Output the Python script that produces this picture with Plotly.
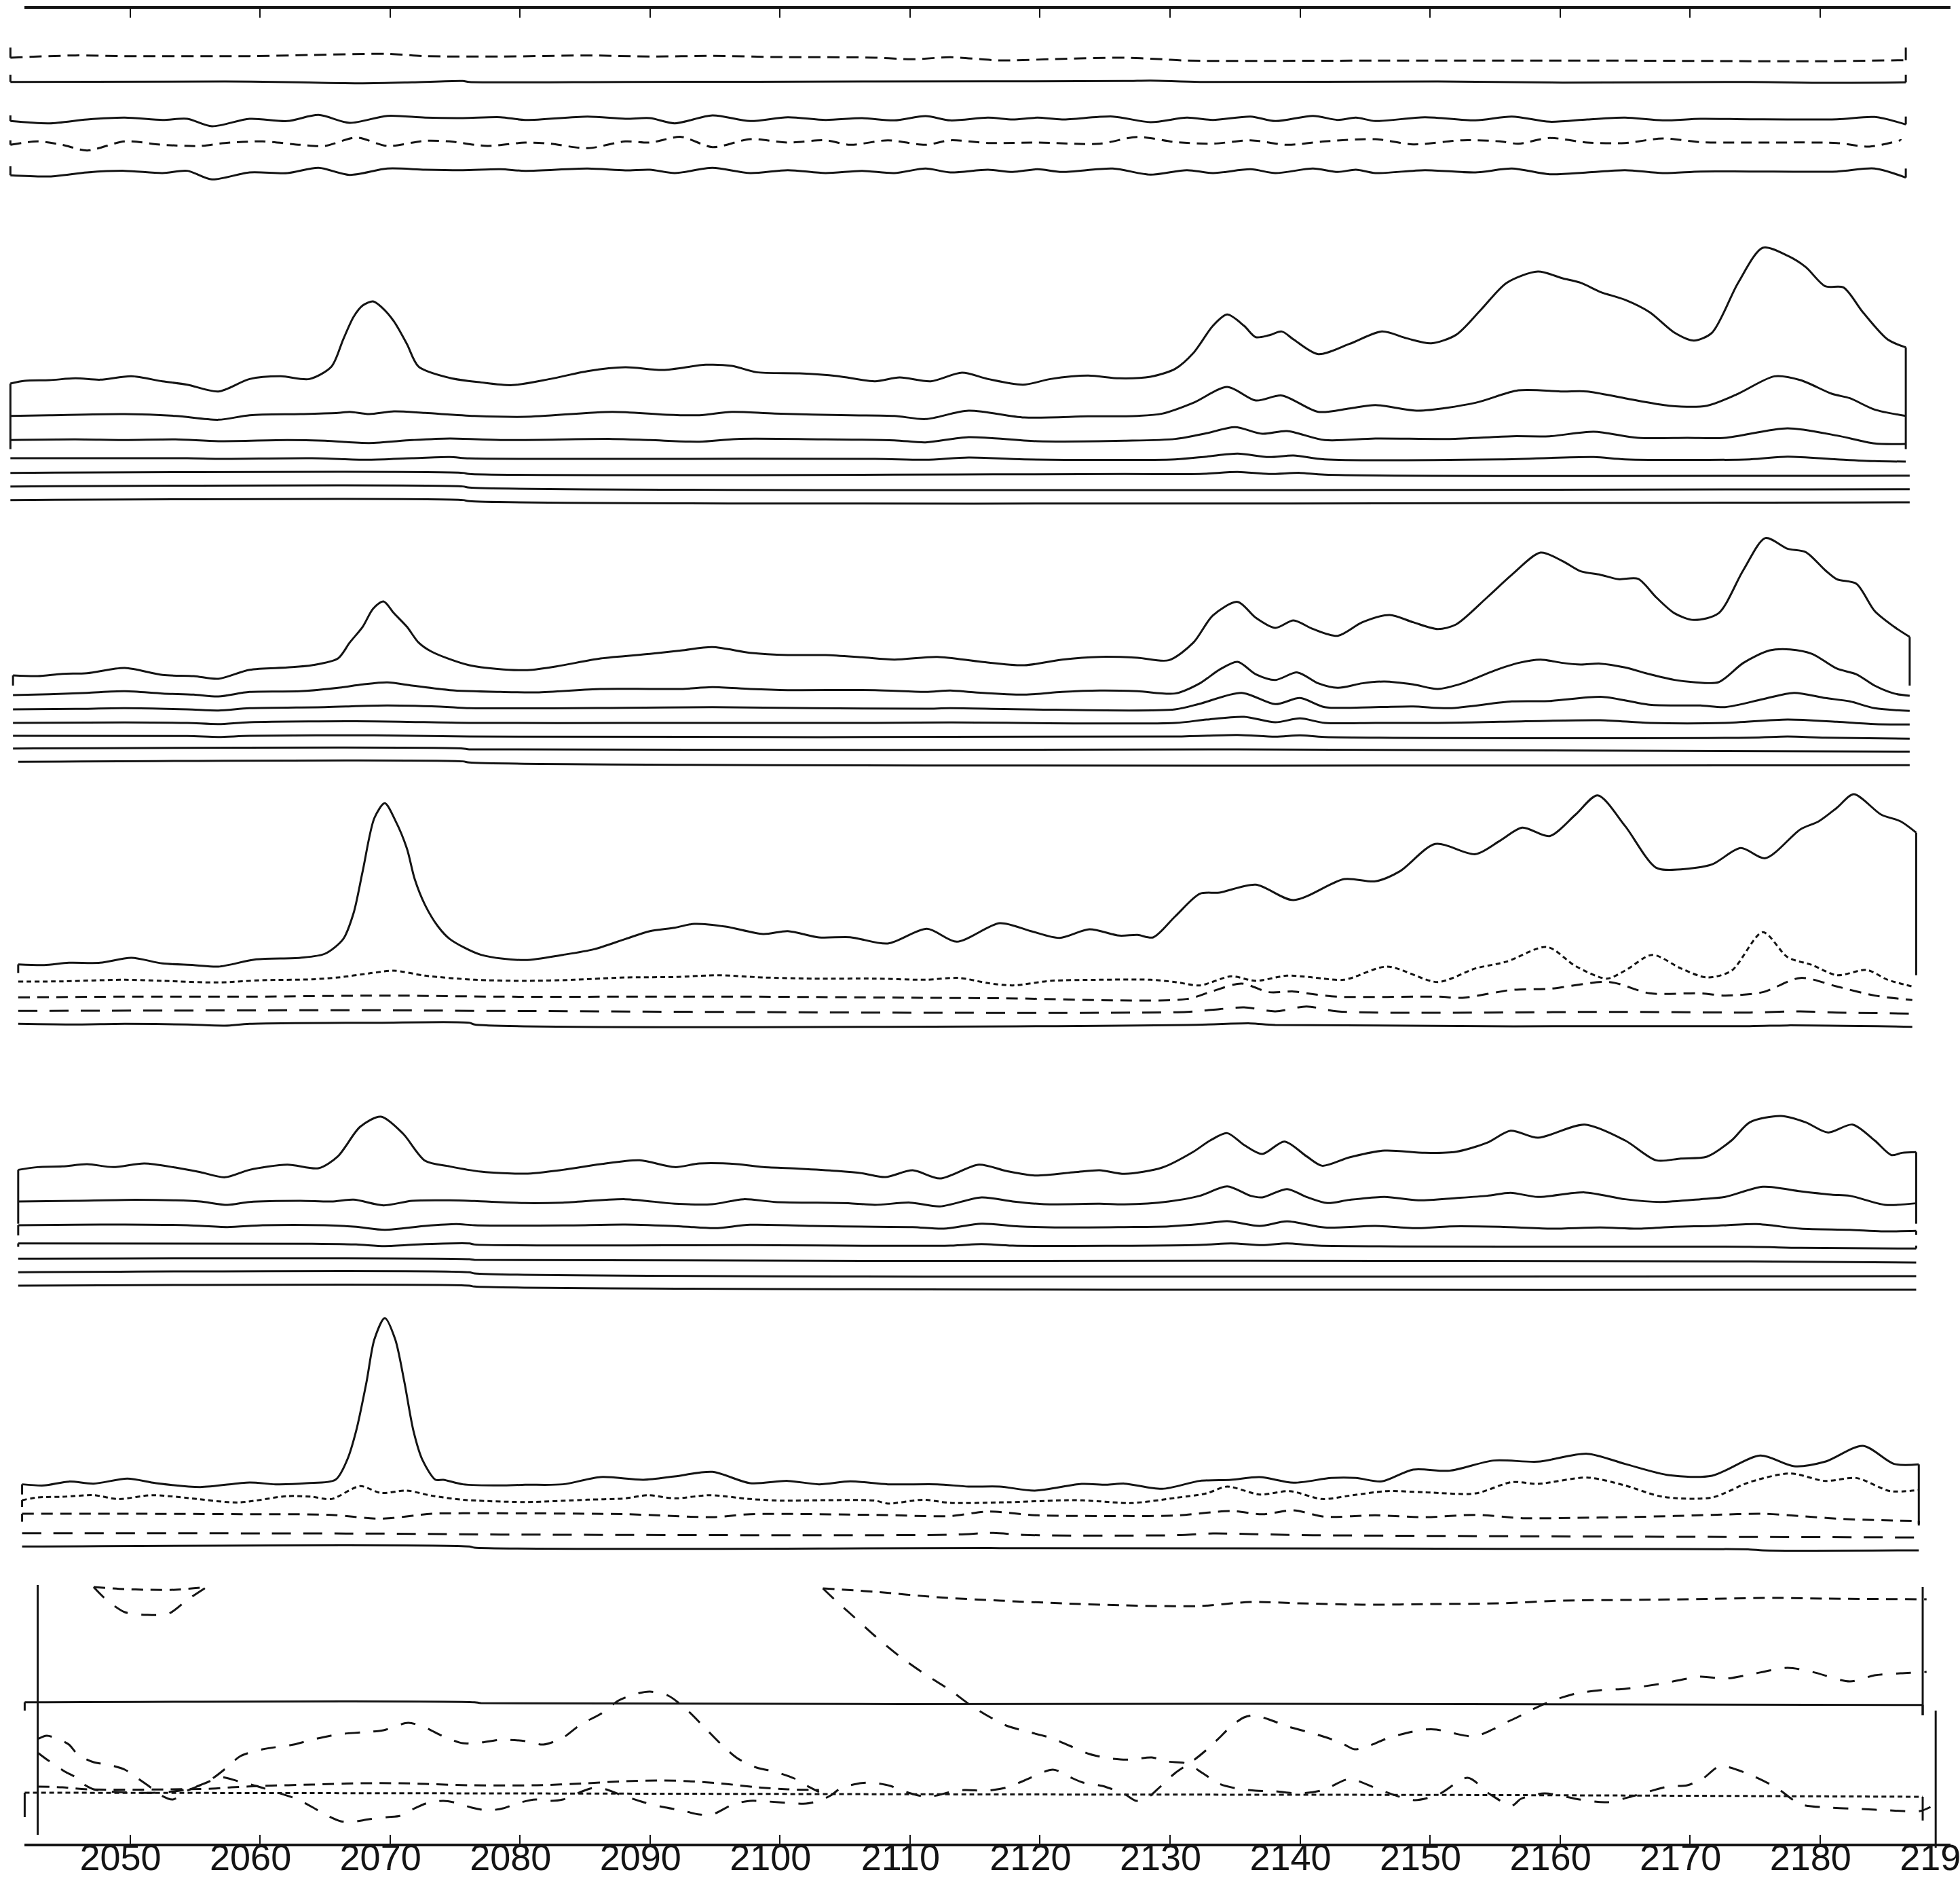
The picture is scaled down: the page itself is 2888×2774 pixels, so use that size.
import plotly.graph_objects as go

# axis: years, tick labels along the bottom
TICK_YEARS = list(range(2050, 2200, 10))
TICK_TEXT = [str(t) for t in TICK_YEARS]

# ---------------- block 1 (top, five flat-ish traces) ----------------
P1A_X = [2040.8, 2045.8, 2049.6, 2059.2, 2064.0, 2069.8, 2072.7, 2078.5, 2085.2, 2090.0, 2094.8, 2099.6,
         2107.3, 2110.2, 2113.1, 2116.9, 2121.7, 2126.5, 2129.4, 2131.3, 2145.8, 2165.0, 2179.4, 2186.6]
P1A_V = [13, 23, 20, 20, 25, 30, 20, 18, 23, 18, 21, 16, 13, 6, 15, 1, 8, 13, 6, 0, 0, 0, -3, 2]

P1B_X = [2040.8, 2057.3, 2063.1, 2067.9, 2071.7, 2075.6, 2076.1, 2088.1, 2107.3, 2126.5, 2128.5, 2132.3,
         2150.6, 2160.2, 2174.6, 2179.4, 2186.6]
P1B_V = [0, 2, -2, -6, -2, 4, 0, 0, 2, 4, 6, 0, 2, -3, 0, -4, -2]

P1W_X = [2040.8, 2043.8, 2046.7, 2049.6, 2052.5, 2054.4, 2056.3, 2059.2, 2062.1, 2064.5, 2066.9, 2069.8,
         2072.7, 2075.6, 2078.5, 2080.4, 2085.2, 2088.1, 2090.0, 2091.9, 2094.8, 2097.7, 2100.6, 2103.5,
         2106.3, 2108.8, 2111.2, 2113.1, 2116.0, 2117.9, 2119.8, 2121.7, 2125.6, 2128.5, 2131.3, 2133.3,
         2136.2, 2138.1, 2141.0, 2142.9, 2144.3, 2145.8, 2149.6, 2153.5, 2156.3, 2159.2, 2162.1, 2165.0,
         2167.9, 2170.8, 2174.6, 2181.3, 2184.2, 2186.6]
P1C_V = [-7, -17, 0, 8, -2, 3, -30, 3, -7, 20, -15, 16, 8, 6, 10, -2, 13, 3, 6, -17, 18, -7, 10, -2,
         6, -4, 15, -4, 8, 0, 8, 0, 13, -12, 8, -2, 13, -7, 16, -2, 8, -7, 10, -4, 13, -10, 0, 8,
         -4, 3, 1, 1, 11, -22]
P1E_V = [-15, -20, -2, 5, -5, 5, -33, -2, -5, 18, -13, 15, 10, 8, 12, 5, 15, 7, 10, -5, 18, -5, 8, -5,
         5, -5, 15, -2, 10, 0, 12, 0, 15, -12, 8, -5, 12, -5, 15, 0, 10, -5, 8, -2, 15, -10, -2, 8,
         -5, 2, 2, 2, 15, -25]

P1D_X = [2040.8, 2042.9, 2044.8, 2046.7, 2049.6, 2052.5, 2055.4, 2057.3, 2060.2, 2063.1, 2065.0, 2067.4,
         2069.8, 2072.7, 2074.6, 2077.5, 2080.4, 2082.3, 2085.2, 2088.1, 2090.0, 2092.4, 2094.8, 2097.7,
         2100.6, 2103.5, 2105.4, 2108.3, 2111.2, 2113.1, 2116.0, 2119.8, 2124.6, 2127.5, 2130.4, 2133.3,
         2136.2, 2139.0, 2141.9, 2145.8, 2148.7, 2152.5, 2155.4, 2156.8, 2159.2, 2162.1, 2165.0, 2167.9,
         2170.8, 2174.6, 2181.3, 2183.8, 2186.2]
P1D_V = [-10, 5, -10, -35, 5, -10, -15, -2, 5, -10, -15, 22, -15, 8, 5, -15, 0, -5, -25, 5, 0, 25, -20,
         15, 0, 10, -10, 10, -10, 10, -2, 0, -5, 25, 2, -5, 10, -10, 5, 15, -8, 10, 5, -5, 20, 0, -2,
         18, 2, 0, -2, -18, 10]

# ---------------- block 2 ----------------
P2T1_X = [2040.8, 2041.9, 2043.8, 2045.8, 2047.7, 2050.1, 2052.5, 2054.4, 2056.8, 2059.2, 2061.6, 2063.8,
          2065.5, 2066.4, 2067.2, 2067.9, 2068.7, 2069.4, 2070.3, 2071.3, 2072.2, 2074.6, 2077.0, 2079.4,
          2082.3, 2085.2, 2088.1, 2091.0,
          2094.3, 2096.3, 2098.2, 2101.5, 2104.4, 2107.3, 2109.2, 2111.6, 2114.0, 2116.0, 2118.7, 2120.8,
          2123.7, 2126.1, 2128.5, 2130.4, 2131.8, 2133.3, 2134.4, 2135.7, 2136.6, 2137.6, 2138.6, 2139.5,
          2141.4, 2143.8, 2146.3, 2148.2, 2150.1, 2152.0, 2153.9, 2155.9, 2158.3, 2160.2, 2161.6, 2163.1,
          2165.0, 2166.9, 2168.8, 2170.3, 2171.7, 2173.7, 2175.6, 2177.5, 2178.9, 2180.4, 2181.8, 2183.3,
          2185.2, 2186.6]
P2T1_V = [290, 302, 305, 313, 307, 322, 300, 285, 255, 310, 322, 310,
          365, 485, 585, 635, 653, 625, 565, 465, 365, 315, 295, 283,
          310, 345, 362, 350, 373, 368, 340, 335, 323, 300, 317, 300, 338, 310, 285, 310, 325, 313,
          320, 355, 425, 545, 595, 545, 495, 503, 520, 485, 420, 465, 520, 490, 468, 505, 615, 735, 785,
          755, 735, 695, 660, 605, 515, 480, 515, 735, 890, 855, 805, 720, 715, 605, 485, 450]

P2T2_X = [2040.8, 2043.8, 2049.6, 2053.5, 2056.8, 2059.2, 2063.1, 2066.0, 2066.9, 2068.4, 2070.3, 2072.7,
          2076.5, 2080.4, 2087.1, 2091.0, 2093.8, 2096.3, 2099.6, 2105.4, 2108.8, 2111.2, 2114.5, 2118.8,
          2123.7, 2127.5, 2129.4, 2131.8, 2134.4, 2136.6, 2138.6, 2141.4, 2143.8, 2145.8, 2149.1, 2153.5,
          2156.8, 2160.2, 2162.1, 2165.0, 2168.4, 2171.3, 2173.7, 2176.5, 2178.5, 2180.9, 2182.3, 2184.2,
          2186.6]
P2T2_V = [-3, 0, 5, -3, -20, 0, 5, 10, 15, 5, 17, 10, -3, -7, 15, 3, 0, 15, 7, 0, -3, -17, 20, -10, -5,
          -3, 7, 55, 125, 65, 87, 15, 30, 45, 20, 55, 110, 105, 105, 75, 42, 42, 95, 172, 155, 95, 75,
          25, -3]

P2T3_X = [2040.8, 2045.8, 2049.6, 2053.5, 2056.8, 2062.1, 2065.0, 2068.4, 2071.7, 2074.6, 2078.5, 2087.1,
          2090.0, 2093.8, 2096.7, 2103.5, 2108.8, 2111.2, 2114.5, 2119.8, 2126.5, 2130.4, 2132.8, 2135.0,
          2137.1, 2139.0, 2141.9, 2145.8, 2151.5, 2156.3, 2159.2, 2162.6, 2166.0, 2169.8, 2172.7, 2177.5,
          2181.3, 2184.2, 2186.6]
P2T3_V = [0, 3, 0, 3, -5, 0, -3, -13, 0, 7, 0, 5, 0, -7, 5, 3, -1, -10, 13, -5, -3, 5, 30, 57, 28, 40,
          0, 7, 5, 17, 17, 37, 10, 10, 10, 52, 20, -15, -17]

P2T4_X = [2040.8, 2054.4, 2056.8, 2064.0, 2068.4, 2071.7, 2074.6, 2076.1, 2088.1, 2107.3, 2111.2, 2114.5,
          2118.8, 2130.4, 2132.8, 2135.2, 2137.6, 2139.5, 2141.9, 2155.4, 2162.6, 2165.0, 2174.6, 2177.5,
          2181.3, 2184.2, 2186.6]
P2T4_V = [0, 0, -3, 0, -7, 0, 5, -1, -3, -3, -7, 3, -5, -5, 7, 20, 5, 12, -5, -5, 5, -5, -5, 7, -5, -13, -15]

P2T5_X = [2040.8, 2075.6, 2076.1, 2126.5, 2132.3, 2135.2, 2137.6, 2140.0, 2141.9, 2186.9]
P2T5_V = [2, 2, -3, -3, -3, 6, -3, 2, -6, -10]
P2FLAT_X = [2040.8, 2075.6, 2076.1, 2186.9]
P2T6_V = [2, 2, -3, -10]
P2T7_V = [2, 2, -3, -8]

# ---------------- block 3 ----------------
P3T1_X = [2041.0, 2042.9, 2044.8, 2046.7, 2049.6, 2052.5, 2054.9, 2056.8, 2059.2, 2062.1, 2064.0,
          2066.0, 2066.9, 2067.9, 2068.7, 2069.5, 2070.3, 2071.3, 2072.2, 2073.2,
          2076.1, 2080.4, 2082.8, 2086.2, 2090.0, 2092.4, 2094.8, 2097.7,
          2100.6, 2103.5, 2106.3, 2108.8, 2112.1, 2115.5, 2118.8, 2121.7, 2124.6, 2127.5, 2129.9, 2131.8,
          2133.3, 2135.2, 2136.6, 2138.1, 2139.5, 2141.0, 2142.9, 2144.8, 2146.9, 2148.7, 2150.6, 2152.0,
          2154.4, 2156.3, 2158.5, 2160.2, 2161.6, 2163.1, 2164.5, 2166.0, 2167.4, 2168.8, 2170.3, 2172.2,
          2174.1, 2175.8, 2177.5, 2178.9, 2180.4, 2181.3, 2182.8, 2184.2, 2185.7, 2186.9]
P3T1_V = [45, 42, 52, 55, 78, 47, 42, 30, 70, 80, 90,
          120, 190, 260, 340, 372, 320, 260, 190, 150,
          90, 68, 85, 120, 140, 155,
          170, 145, 135, 135, 125, 115, 127, 105, 90, 115, 127, 123, 112, 190, 310, 370, 300, 255, 288,
          250, 220, 280, 312, 280, 250, 270, 390, 490, 588, 550, 505, 490, 470, 472, 390, 320, 290, 320,
          510, 652, 605, 590, 510, 470, 450, 330, 260, 215]

P3T2_X = [2041.0, 2043.8, 2046.7, 2049.6, 2052.5, 2054.9, 2056.8, 2059.2, 2063.1, 2066.0, 2067.9, 2069.8,
          2071.7, 2074.6, 2078.5, 2081.3, 2086.2, 2090.0, 2092.4, 2094.8, 2097.7, 2100.6, 2107.3, 2111.2,
          2113.1, 2115.0, 2118.8, 2121.7, 2124.6, 2127.5, 2130.4, 2132.3, 2133.8, 2135.2, 2136.6, 2138.1,
          2139.8, 2141.4, 2142.9, 2144.8, 2146.5, 2148.7, 2150.6, 2152.5, 2154.9, 2156.8, 2158.5, 2160.2,
          2161.6, 2163.1, 2165.0, 2166.9, 2168.8, 2170.3, 2172.2, 2174.1, 2176.1, 2177.7, 2179.4, 2181.3,
          2182.8, 2184.2, 2185.7, 2186.9]
P3T2_V = [-2, 2, 8, 15, 5, 0, -8, 12, 15, 30, 45, 54, 40, 20, 12, 10, 25, 25, 25, 33, 25, 20, 20, 12, 18,
          10, 0, 12, 18, 15, 5, 50, 110, 145, 90, 65, 98, 50, 30, 50, 58, 45, 25, 50, 105, 140, 155, 140,
          133, 137, 120, 90, 65, 55, 55, 140, 195, 200, 180, 115, 90, 40, 5, -5]

P3T3_X = [2041.0, 2045.8, 2049.6, 2054.4, 2056.8, 2059.2, 2065.0, 2069.8, 2074.6, 2076.1, 2088.1, 2094.8,
          2102.5, 2111.2, 2113.1, 2118.8, 2130.4, 2132.3, 2135.5, 2138.1, 2140.0, 2141.9, 2145.8, 2148.7,
          2151.5, 2156.3, 2159.2, 2163.3, 2166.9, 2170.8, 2172.7, 2175.6, 2178.0, 2180.4, 2182.3, 2184.2,
          2186.9]
P3T3_V = [0, 2, 5, 0, -5, 5, 10, 17, 10, 5, 7, 10, 5, 3, 5, 0, 0, 25, 73, 23, 50, 10, 10, 13, 5, 35, 37,
          55, 20, 17, 10, 45, 73, 50, 35, 5, -7]

P3T4_X = [2041.0, 2049.6, 2054.4, 2056.8, 2059.2, 2068.8, 2076.1, 2088.1, 2107.3, 2113.1, 2130.4, 2132.8,
          2135.7, 2138.1, 2140.0, 2141.9, 2145.8, 2150.6, 2155.4, 2163.1, 2166.9, 2172.7, 2177.5, 2181.3,
          2184.2, 2186.9]
P3T4_V = [0, 2, 0, -5, 3, 7, 0, 0, 0, 2, 0, 15, 27, 3, 20, 0, 0, 0, 5, 12, 0, 0, 15, 5, -5, -7]

P3T5_X = [2041.0, 2054.4, 2056.8, 2059.2, 2068.8, 2076.1, 2130.4, 2135.2, 2138.1, 2140.0, 2141.9, 2174.6,
          2177.5, 2180.4, 2186.9]
P3T5_V = [0, -1, -5, 0, 2, -3, -3, 4, -4, 2, -5, -8, -3, -8, -13]

P3T6_X = [2041.0, 2075.6, 2076.1, 2135.2, 2186.9]
P3T6_V = [2, 2, -2, -2, -12]
P3T7_X = [2041.4, 2075.6, 2076.1, 2186.9]
P3T7_V = [0, 2, -3, -15]

# ---------------- block 4 ----------------
P4T1_X = [2041.4, 2043.4, 2045.3, 2047.7, 2050.1, 2052.5, 2054.9, 2056.8, 2059.7, 2063.1,
          2065.0, 2066.4, 2067.2, 2067.9, 2068.8, 2069.6, 2070.4, 2071.3, 2071.9, 2072.7, 2073.7, 2074.6,
          2077.0, 2080.4, 2083.3, 2085.7, 2088.1, 2090.0, 2091.9,
          2093.4, 2095.8, 2098.7, 2100.6, 2103.0, 2105.4, 2108.3, 2111.3, 2113.6, 2116.9, 2119.3, 2121.5,
          2123.8, 2126.1, 2127.5, 2128.7, 2130.4, 2132.3, 2133.8, 2136.6, 2139.5, 2143.4, 2145.8, 2147.7,
          2150.4, 2153.5, 2155.4, 2157.1, 2159.2, 2161.2, 2162.9, 2165.0, 2167.4, 2169.3, 2171.7, 2173.9,
          2175.8, 2178.5, 2179.9, 2181.3, 2182.6, 2184.7, 2186.2, 2187.4]
P4T1_V = [43, 40, 50, 50, 72, 47, 40, 33, 65, 72,
          90, 155, 270, 455, 690, 755, 680, 555, 420, 305, 210, 155,
          85, 62, 85, 110, 155, 190, 205,
          222, 210, 177, 190, 162, 163, 135, 200, 143, 225, 190, 160, 198, 170, 173, 162, 255,
          355, 360, 395, 327, 420, 410, 455, 575, 530, 590, 647, 610, 705, 790, 655, 470, 463, 485, 557,
          512, 640, 675, 735, 795, 705, 675, 625]

P4T2_X = [2041.4, 2044.8, 2049.6, 2052.5, 2056.8, 2060.2, 2064.0, 2066.0, 2068.4, 2070.3, 2072.7, 2076.5,
          2080.4, 2084.2, 2088.1, 2091.9, 2095.3, 2098.7, 2102.5, 2107.3, 2111.2, 2113.8, 2116.0, 2117.9,
          2120.8, 2124.6, 2128.5, 2130.4, 2132.3, 2134.7, 2136.6, 2139.0, 2141.0, 2143.4, 2146.7, 2150.6,
          2153.5, 2155.9, 2159.0, 2161.2, 2163.6, 2165.0, 2167.1, 2169.3, 2171.3, 2173.2, 2175.6, 2177.5,
          2179.4, 2181.3, 2183.6, 2185.2, 2187.1]
P4T2_V = [-3, -2, 5, 0, -7, 3, 7, 15, 33, 45, 23, 5, 0, 5, 15, 17, 25, 15, 10, 10, 5, 13, -10, -20, 0, 5,
          5, -5, -20, 20, 0, 23, 15, 5, 63, -5, 55, 85, 150, 65, 10, 45, 115, 55, 15, 45, 215, 105, 70,
          25, 48, 5, -25]

P4T3_X = [2041.4, 2049.6, 2059.2, 2069.8, 2078.5, 2097.7, 2116.9, 2131.3, 2133.3, 2135.5, 2137.6, 2139.5,
          2140.5, 2142.9, 2150.6, 2152.5, 2156.3, 2159.2, 2163.8, 2166.9, 2170.8, 2172.7, 2175.6, 2178.5,
          2181.3, 2184.2, 2187.1]
P4T3_V = [-3, 0, 0, 5, 0, 0, -7, -10, 25, 58, 20, 23, 15, 0, 0, -5, 30, 35, 65, 15, 15, 5, 20, 83, 45, 5, -15]

P4T4_X = [2041.4, 2068.8, 2078.5, 2131.3, 2133.8, 2135.7, 2138.1, 2140.5, 2142.9, 2165.0, 2174.6, 2178.5,
          2181.3, 2187.1]
P4T4_V = [0, 3, 0, -4, 8, 16, -2, 20, -2, -4, -7, -2, -7, -12]

P4T5_X = [2041.4, 2045.8, 2049.6, 2054.4, 2057.3, 2059.2, 2068.8, 2076.1, 2076.5, 2131.3, 2136.2, 2138.1,
          2174.6, 2177.5, 2187.1]
P4T5_V = [0, -3, 0, -3, -8, 0, 5, 5, -3, -5, 2, -5, -10, -7, -13]

# ---------------- block 5 ----------------
P5T1_X = [2041.4, 2042.9, 2044.8, 2046.7, 2048.7, 2051.1, 2053.5, 2055.4, 2057.3, 2059.2, 2062.1, 2064.5,
          2066.0, 2067.7, 2069.3, 2071.0, 2072.7, 2074.6, 2077.0, 2080.4, 2083.3, 2086.2, 2089.2, 2091.9,
          2093.8, 2096.7, 2098.7, 2101.5, 2104.4, 2106.3, 2108.1, 2110.2, 2112.3, 2115.3, 2117.4, 2119.6,
          2122.7, 2124.6, 2126.5, 2129.4, 2131.8, 2133.1, 2134.4, 2135.7, 2137.1, 2138.8, 2140.5, 2141.7,
          2143.8, 2146.5, 2149.6, 2152.0, 2154.4, 2156.2, 2158.3, 2161.9, 2165.0, 2167.4, 2169.3, 2171.3,
          2173.2, 2174.6, 2177.0, 2178.9, 2180.6, 2182.5, 2184.2, 2185.5, 2186.3, 2187.4]
P5T1_V = [145, 157, 160, 170, 157, 173, 155, 135, 112, 145, 168, 152, 205, 335, 380, 305, 185, 160, 137,
          128, 145, 170, 187, 157, 173, 170, 157, 150, 140, 130, 113, 143, 107, 168, 140, 120, 135, 143,
          127, 155, 225, 275, 307, 255, 215, 270, 205, 163, 200, 230, 220, 225, 265, 318, 287, 345, 275,
          187, 195, 203, 275, 355, 383, 355, 310, 345, 275, 210, 220, 223]

P5T2_X = [2041.4, 2045.8, 2049.6, 2053.5, 2055.4, 2057.5, 2059.2, 2063.1, 2065.5, 2067.2, 2069.5, 2071.7,
          2074.6, 2076.5, 2080.4, 2083.3, 2088.1, 2091.9, 2094.8, 2097.2, 2099.6, 2105.4, 2107.3, 2110.0,
          2112.3, 2115.5, 2117.9, 2120.3, 2124.6, 2126.5, 2129.9, 2132.3, 2134.4, 2136.2, 2137.1, 2139.0,
          2140.5, 2142.1, 2143.8, 2146.5, 2149.1, 2152.0, 2154.4, 2156.2, 2158.3, 2161.9, 2165.0, 2167.7,
          2170.8, 2172.7, 2175.6, 2178.5, 2180.9, 2182.3, 2185.0, 2187.4]
P5T2_V = [-2, 1, 5, 3, -2, -17, -4, 1, -2, 6, -19, 1, 3, 0, -9, -7, 8, -12, -14, 8, -4, -10, -17, -7,
          -24, 16, -2, -14, -12, -15, -2, 23, 65, 23, 16, 53, 18, -9, 5, 18, 3, 13, 23, 36, 18, 38, 8,
          -4, 8, 18, 63, 43, 28, 23, -17, -10]

P5T3_X = [2041.4, 2045.8, 2049.6, 2054.4, 2057.5, 2060.2, 2065.0, 2067.4, 2069.6, 2072.7, 2075.1, 2076.5,
          2083.3, 2088.1, 2092.4, 2095.0, 2097.7, 2102.5, 2107.3, 2110.2, 2112.6, 2115.5, 2118.4, 2121.7,
          2126.5, 2129.9, 2132.3, 2134.4, 2136.9, 2139.0, 2141.9, 2145.8, 2149.1, 2151.5, 2155.4, 2159.2,
          2163.1, 2166.0, 2168.8, 2171.7, 2175.1, 2178.5, 2182.3, 2184.7, 2187.4]
P5T3_V = [0, 2, 3, 0, -8, 0, 0, -7, -20, -3, 5, 0, -1, 3, -5, -13, 2, -3, -7, -8, -15, 7, -5, -10, -8,
          -5, 5, 18, -3, 17, -10, -3, -13, -5, -7, -15, -10, -15, -7, -3, 5, -15, -20, -27, -25]

P5T4_X = [2041.4, 2064.0, 2067.4, 2069.6, 2072.7, 2076.1, 2076.5, 2097.7, 2113.1, 2115.5, 2117.9, 2132.3,
          2134.7, 2137.1, 2139.0, 2141.4, 2174.6, 2178.5, 2187.4]
P5T4_V = [0, -2, -5, -12, -3, 0, -5, -8, -10, -3, -10, -7, 0, -8, 0, -10, -15, -20, -23]

P5T5_X = [2041.4, 2076.1, 2076.5, 2136.2, 2174.6, 2187.4]
P5T5_V = [0, -2, -5, -9, -12, -17]
P5FLAT_X = [2041.4, 2076.1, 2076.5, 2187.4]
P5T6_V = [0, 0, -5, -17]
P5T7_V = [0, 0, -4, -18]

# ---------------- block 6 ----------------
P6T1_X = [2041.7, 2043.4, 2045.3, 2047.2, 2049.8, 2052.0, 2055.4, 2059.2, 2061.2, 2063.6,
          2065.8, 2066.7, 2067.4, 2068.2, 2068.8, 2069.6, 2070.4, 2071.1, 2071.8, 2072.5, 2073.5, 2074.1,
          2075.6, 2078.5, 2080.4,
          2083.3, 2086.2, 2089.5, 2091.9, 2094.8, 2097.7, 2100.6, 2103.0, 2105.4, 2108.3, 2112.1, 2114.5,
          2116.9, 2119.6, 2123.2, 2125.1, 2126.5, 2129.4, 2132.3, 2134.7, 2136.9, 2139.5, 2142.4, 2144.3,
          2146.3, 2148.7, 2151.5, 2154.9, 2158.3, 2162.1, 2165.0, 2168.4, 2171.7, 2175.4, 2178.0, 2180.4,
          2183.3, 2185.7, 2187.6]
P6T1_V = [80, 75, 92, 83, 105, 85, 68, 88, 80, 85,
          100, 187, 317, 534, 721, 815, 721, 534, 317, 187, 100, 100,
          80, 75, 78,
          80, 112, 100, 115, 135, 85, 95, 80, 93, 80, 80, 70, 70, 52, 82, 78, 83, 60, 95, 100,
          112, 87, 108, 108, 93, 145, 140, 185, 180, 215, 170, 120, 118, 207, 160, 180, 250, 170, 168]

P6T2_X = [2041.7, 2042.9, 2044.8, 2047.2, 2049.1, 2051.7, 2054.4, 2058.3, 2062.1, 2064.0, 2065.5, 2067.7,
          2069.3, 2071.3, 2073.2, 2075.6, 2080.4, 2085.2, 2088.1, 2089.8, 2091.9, 2094.6, 2097.7, 2100.1,
          2103.5, 2107.3, 2108.3, 2111.0, 2113.1, 2116.9, 2122.7, 2124.6, 2127.0, 2130.4, 2132.8, 2134.4,
          2136.9, 2139.2, 2141.7, 2143.8, 2146.7, 2149.6, 2153.5, 2156.3, 2158.3, 2162.1, 2165.0, 2167.9,
          2171.7, 2174.6, 2177.7, 2180.4, 2182.8, 2185.4, 2187.6]
P6T2_V = [-10, 2, 5, 12, -5, 12, 0, -20, 8, 5, -5, 52, 22, 32, 10, -8, -18, -8, -2, 12, -2, 12, -5, -12,
          -10, -12, -25, -8, -22, -20, -10, -15, -23, 0, 20, 50, 15, 30, -5, 10, 30, 25, 20, 70, 62, 90,
          55, 5, 2, 70, 108, 75, 88, 30, 35]

P6T3_X = [2041.7, 2049.6, 2059.2, 2065.5, 2069.3, 2073.2, 2075.6, 2088.1, 2094.8, 2097.7, 2107.3, 2113.1,
          2116.0, 2119.8, 2126.5, 2130.4, 2134.7, 2137.1, 2139.5, 2141.9, 2145.8, 2149.6, 2153.5, 2157.3,
          2161.2, 2165.0, 2168.8, 2171.7, 2175.6, 2178.5, 2181.3, 2184.2, 2187.6]
P6T3_V = [2, 2, 0, -3, -20, 2, 4, 0, -13, 0, -3, -8, 12, -5, -8, -6, 14, 0, 17, -11, -5, -13, -3, -18,
          -16, -13, -8, -3, 2, -8, -20, -26, -30]

P6T4_X = [2041.7, 2068.8, 2078.5, 2113.1, 2116.4, 2118.8, 2130.4, 2133.3, 2136.2, 2141.0, 2187.6]
P6T4_V = [2, 0, -4, -5, 3, -6, -7, 1, -2, -7, -17]

P6T5_X = [2041.7, 2076.1, 2076.5, 2116.9, 2155.4, 2174.6, 2175.6, 2187.6]
P6T5_V = [0, 0, -5, -7, -10, -13, -17, -17]

# ---------------- block 7 (bottom) ----------------
B_DOT_X = [2041.9, 2078.5, 2116.9, 2155.4, 2187.9]
B_DOT_V = [-1, -2, -3.5, -4.5, -7]

B_SOLID_X = [2041.9, 2076.5, 2077.0, 2136.2, 2187.9]
B_SOLID_V = [132.3, 132.3, 131, 130, 128.3]

B_MED_X = [2042.9, 2044.8, 2046.7, 2056.3, 2057.8, 2060.2, 2064.0, 2067.9, 2070.8, 2072.7, 2076.1, 2081.3,
           2085.2, 2088.1, 2091.0, 2092.9, 2095.8, 2098.2, 2100.6, 2103.0]
B_MED_V = [8, 7, 4, 5, 7, 9, 11, 13, 13, 12, 10, 10, 13, 16, 17, 16, 12, 7, 4, 3]

B_TOP_X = [2103.3, 2107.3, 2112.1, 2116.9, 2121.7, 2126.5, 2132.3, 2136.2, 2140.0, 2144.8, 2150.6, 2155.4,
           2160.2, 2165.0, 2169.8, 2176.5, 2180.4, 2188.2]
B_TOP_V = [300, 295, 287, 282, 278, 275, 274, 280, 278, 276, 277, 278, 282, 283, 284, 286, 285, 284]

B_LENS_TOP_X = [2047.2, 2049.6, 2051.3, 2053.5, 2055.9]
B_LENS_TOP_V = [302, 299, 298, 298, 302]
B_LENS_LOW_X = [2047.2, 2048.2, 2049.6, 2051.3, 2053.0, 2054.4, 2055.9]
B_LENS_LOW_V = [302, 283, 265, 261, 263, 283, 302]

B_L1_X = [2042.9, 2043.6, 2044.6, 2045.3, 2046.0, 2047.2, 2048.4, 2049.6, 2050.6, 2051.5, 2052.4, 2053.3,
          2054.4, 2055.4, 2056.5, 2057.5, 2058.5, 2060.2, 2062.6, 2064.0, 2066.0, 2067.9, 2069.5, 2071.4,
          2072.7, 2074.1, 2075.6, 2077.0, 2078.5, 2080.4, 2081.8, 2083.3, 2084.7, 2086.2, 2087.6, 2089.0,
          2090.0, 2091.4, 2092.9, 2094.3, 2095.6, 2096.7, 2098.2, 2099.6, 2101.1, 2102.0, 2103.0]
B_L1_V = [78, 83, 77, 70, 55, 44, 40, 33, 20, 8, -5, -11, 2, 10, 22, 37, 53, 63, 70, 77, 85, 88, 91, 102,
          95, 82, 72, 73, 77, 75, 70, 80, 100, 115, 135, 145, 148, 142, 120, 93, 68, 50, 36, 30, 20, 10, 0]

B_L2_X = [2103.3, 2104.4, 2105.4, 2107.3, 2109.2, 2111.2, 2113.1, 2114.5, 2116.0, 2117.4, 2118.8, 2120.8,
          2122.3, 2123.8, 2125.2, 2126.2, 2127.1, 2128.6, 2129.8, 2131.3, 2132.5, 2133.8, 2135.2, 2136.6,
          2138.1, 2140.0, 2141.8, 2143.8, 2146.3, 2148.8, 2150.7, 2152.9, 2154.6, 2156.3, 2157.0, 2158.8,
          2161.5, 2163.6, 2165.8, 2168.3, 2169.8, 2171.0, 2172.3, 2174.3, 2176.6, 2178.5, 2180.9, 2183.2,
          2185.3, 2187.7, 2188.5]
B_L2_V = [300, 280, 263, 230, 200, 173, 150, 130, 112, 98, 90, 80, 68, 56, 50, 48, 48, 51, 45, 42, 28,
          12, 5, 2, 1, -2, 3, 19, 2, -12, -3, 21, -3, -20, -10, -2, -11, -15, -5, 8, 10, 20, 38, 28, 7,
          -18, -23, -25, -27, -28, -22]

B_L3_X = [2042.9, 2043.6, 2044.3, 2045.0, 2045.8, 2046.4, 2047.2, 2049.1, 2052.0, 2054.4, 2055.9, 2057.0,
          2058.3, 2059.7, 2061.2, 2062.8, 2064.0, 2065.2, 2066.2, 2067.1, 2068.4, 2069.8, 2070.8, 2071.9,
          2072.9, 2074.1, 2075.1, 2076.3, 2077.5, 2078.7, 2079.9, 2081.2, 2082.3, 2083.3, 2084.4, 2085.6,
          2086.6, 2087.6, 2089.5, 2091.0, 2092.4, 2093.8, 2094.8, 2096.4, 2097.7, 2099.1, 2100.6, 2102.0,
          2103.0, 2103.9, 2104.7, 2105.9, 2107.0, 2108.5, 2109.4, 2110.9, 2111.8, 2113.1, 2114.2, 2115.9,
          2117.5, 2118.8, 2121.0, 2122.3, 2123.3, 2124.8, 2126.5, 2127.4, 2128.3, 2129.2, 2130.4, 2131.7,
          2132.8, 2133.8, 2134.7, 2135.7, 2136.5, 2137.6, 2139.0, 2140.5, 2142.1, 2143.4, 2144.2, 2145.3,
          2146.7, 2148.2, 2149.6, 2150.5, 2151.7, 2153.4, 2154.8, 2155.8, 2156.7, 2157.7, 2159.2, 2161.2,
          2163.1, 2165.0, 2167.9, 2170.8, 2172.7, 2174.6, 2177.5, 2179.4, 2182.3, 2184.2, 2186.2, 2188.2]
B_L3_V = [58, 48, 39, 30, 22, 12, 4, 0, -1, 4, 14, 22, 16, 9, 0, -10, -22, -35, -43, -44, -40, -37, -35,
          -24, -16, -13, -16, -23, -27, -24, -16, -11, -13, -11, -2, 6, 4, -3, -15, -22, -27, -33, -33,
          -18, -13, -14, -16, -17, -13, -5, 6, 12, 14, 9, 2, -6, -6, 0, 3, 2, 7, 17, 33, 22, 14, 9, -3,
          -13, -8, 7, 28, 45, 62, 80, 97, 110, 113, 107, 97, 89, 80, 70, 63, 68, 79, 87, 92, 92, 87, 82,
          92, 102, 110, 120, 133, 145, 150, 152, 160, 170, 167, 173, 183, 177, 163, 172, 175, 177]

# ---------------- drawing ----------------
INK = "#141414"
SOLID = "solid"
DOT = "7px,5px"
SHORT = "18px,10px"
MED = "17px,11px"
LONG = "28px,18px"
LOOSE = "22px,20px"
K3 = 1 / 3.0
LW = 3

# (x, values, baseline on page, value scale, dash, end ticks)
SERIES = [
    (P1A_X, P1A_V, 89.3, K3, SHORT, (58, 58)),
    (P1B_X, P1B_V, 120.7, K3, SOLID, (32, 32)),
    (P1W_X, P1C_V, 176.0, K3, SOLID, (18, 13)),
    (P1D_X, P1D_V, 210.0, K3, "16px,10px", (10, 15)),
    (P1W_X, P1E_V, 253.3, K3, SOLID, (25, 15)),

    (P2T1_X, P2T1_V, 661.7, K3, SOLID, (0, 0)),
    (P2T2_X, P2T2_V, 611.7, K3, SOLID, None),
    (P2T3_X, P2T3_V, 648.3, K3, SOLID, None),
    (P2T4_X, P2T4_V, 675.0, K3, SOLID, None),
    (P2T5_X, P2T5_V, 697.3, K3, SOLID, None),
    (P2FLAT_X, P2T6_V, 717.3, K3, SOLID, None),
    (P2FLAT_X, P2T7_V, 737.3, K3, SOLID, None),

    (P3T1_X, P3T1_V, 1010.0, K3, SOLID, (0, 0)),
    (P3T2_X, P3T2_V, 1023.3, K3, SOLID, None),
    (P3T3_X, P3T3_V, 1045.0, K3, SOLID, None),
    (P3T4_X, P3T4_V, 1065.0, K3, SOLID, None),
    (P3T5_X, P3T5_V, 1084.0, K3, SOLID, None),
    (P3T6_X, P3T6_V, 1103.3, K3, SOLID, None),
    (P3T7_X, P3T7_V, 1122.3, K3, SOLID, None),

    (P4T1_X, P4T1_V, 1435.0, K3, SOLID, (5, -5)),
    (P4T2_X, P4T2_V, 1445.0, K3, DOT, None),
    (P4T3_X, P4T3_V, 1468.3, K3, MED, None),
    (P4T4_X, P4T4_V, 1489.3, K3, LONG, None),
    (P4T5_X, P4T5_V, 1508.3, K3, SOLID, None),

    (P5T1_X, P5T1_V, 1771.7, K3, SOLID, (-93, -93)),
    (P5T2_X, P5T2_V, 1769.3, K3, SOLID, None),
    (P5T3_X, P5T3_V, 1805.0, K3, SOLID, (-45, -42)),
    (P5T4_X, P5T4_V, 1831.7, K3, SOLID, (-15, -10)),
    (P5T5_X, P5T5_V, 1854.3, K3, SOLID, None),
    (P5FLAT_X, P5T6_V, 1874.3, K3, SOLID, None),
    (P5FLAT_X, P5T7_V, 1894.0, K3, SOLID, None),

    (P6T1_X, P6T1_V, 2213.3, K3, SOLID, (35, -95)),
    (P6T2_X, P6T2_V, 2206.7, K3, DOT, (-40, None)),
    (P6T3_X, P6T3_V, 2230.7, K3, MED, (-33, -50)),
    (P6T4_X, P6T4_V, 2259.3, K3, LONG, None),
    (P6T5_X, P6T5_V, 2278.3, K3, SOLID, None),

    (B_DOT_X, B_DOT_V, 2640.0, 1.0, DOT, (-37, -42)),
    (B_SOLID_X, B_SOLID_V, 2640.0, 1.0, SOLID, (120, 113)),
    (B_MED_X, B_MED_V, 2640.0, 1.0, MED, None),
    (B_TOP_X, B_TOP_V, 2640.0, 1.0, MED, None),
    (B_LENS_TOP_X, B_LENS_TOP_V, 2640.0, 1.0, MED, None),
    (B_LENS_LOW_X, B_LENS_LOW_V, 2640.0, 1.0, LOOSE, None),
    (B_L1_X, B_L1_V, 2640.0, 1.0, LOOSE, None),
    (B_L2_X, B_L2_V, 2640.0, 1.0, LOOSE, None),
    (B_L3_X, B_L3_V, 2640.0, 1.0, LOOSE, None),
]

W, H = 2888, 2774
X0, X1 = 2040.0, 2190.77

fig = go.Figure()

for xs, vs, base, k, dash, caps in SERIES:
    ys = [base - k * v for v in vs]
    fig.add_trace(go.Scatter(
        x=xs, y=ys, mode="lines", hoverinfo="skip", showlegend=False,
        line=dict(color=INK, width=LW, dash=dash, shape="spline", smoothing=0.8),
    ))
    if caps:
        for idx, cap in ((0, caps[0]), (-1, caps[1])):
            if cap is None:
                continue
            fig.add_trace(go.Scatter(
                x=[xs[idx], xs[idx]], y=[ys[idx], base - k * cap], mode="lines",
                hoverinfo="skip", showlegend=False, line=dict(color=INK, width=LW),
            ))

# empty trace so the framed year axis gets its own subplot
fig.add_trace(go.Scatter(x=[], y=[], xaxis="x2", yaxis="y2", showlegend=False))

# frame of the bottom block
frame = [
    (2042.9, 2335, 2042.9, 2703),
    (2187.9, 2338, 2187.9, 2527),
    (2188.9, 2520, 2188.9, 2722),
]
for xa, ya, xb, yb in frame:
    fig.add_shape(type="line", xref="x", yref="y", x0=xa, y0=ya, x1=xb, y1=yb,
                  line=dict(color=INK, width=LW))

ax_lo, ax_hi = 2041.9, 2190.05
fig.update_layout(
    template="none",
    width=W, height=H,
    margin=dict(l=0, r=0, t=0, b=0, pad=0, autoexpand=False),
    paper_bgcolor="white", plot_bgcolor="rgba(0,0,0,0)",
    xaxis=dict(range=[X0, X1], domain=[0, 1], visible=False, fixedrange=True, automargin=False),
    yaxis=dict(range=[H, 0], domain=[0, 1], visible=False, fixedrange=True, automargin=False),
    xaxis2=dict(
        range=[ax_lo, ax_hi],
        domain=[(ax_lo - X0) / (X1 - X0), (ax_hi - X0) / (X1 - X0)],
        anchor="y2", showline=True, linecolor=INK, linewidth=4, mirror="ticks",
        ticks="inside", ticklen=13, tickwidth=2, tickcolor=INK,
        tickvals=TICK_YEARS, ticktext=TICK_TEXT, ticklabelshift=-14,
        ticklabelstandoff=-30, ticklabeloverflow="allow", automargin=False,
        tickfont=dict(family="Liberation Sans, Arial, sans-serif", size=54, color=INK),
        showgrid=False, zeroline=False,
    ),
    yaxis2=dict(range=[0, 1], domain=[58 / H, 1 - 13 / H], anchor="x2", visible=False,
                automargin=False),
)

fig.write_html("out.html", config={"displayModeBar": False},
               post_script="document.body.style.margin='0';")
